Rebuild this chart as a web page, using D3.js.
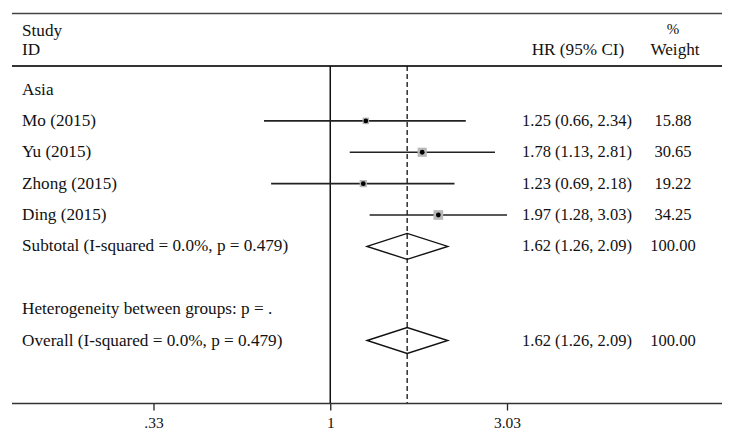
<!DOCTYPE html>
<html><head><meta charset="utf-8">
<script src="https://cdn.jsdelivr.net/npm/d3@7"></script>
<style>body{margin:0;background:#fff}svg{display:block}text{font-family:"Liberation Serif","Times New Roman",serif;fill:#111}</style>
</head><body><svg id="c" width="736" height="442"></svg>
<script>
const studies = ["Mo (2015)", "Yu (2015)", "Zhong (2015)", "Ding (2015)"];
const hr = [1.25, 1.78, 1.23, 1.97];
const lower = [0.66, 1.13, 0.69, 1.28];
const upper = [2.34, 2.81, 2.18, 3.03];
const weights = ["15.88", "30.65", "19.22", "34.25"];
const groupLabel = "Asia";
const subtotal = {label: "Subtotal (I-squared = 0.0%, p = 0.479)", hr: 1.62, lo: 1.26, hi: 2.09, w: "100.00"};
const heteroLabel = "Heterogeneity between groups: p = .";
const overall = {label: "Overall (I-squared = 0.0%, p = 0.479)", hr: 1.62, lo: 1.26, hi: 2.09, w: "100.00"};
const tickValues = [0.33, 1, 3.03];
const tickLabels = [".33", "1", "3.03"];

const svg = d3.select("#c");
const x = d3.scaleLog().domain([0.33, 3.03]).range([153.5, 507]);
const fmt = (a,b,c) => `${a.toFixed(2)} (${b.toFixed(2)}, ${c.toFixed(2)})`;

const left = 12, right = 722, topY = 13.5, headY = 66, axisY = 403.5;
const textX = 22, hrX = 632, hrHeadX = 578, wX = 673, fs = 17.2, nfs = 16.5;

// rows: 0 Asia, 1-4 studies, 5 subtotal, 6 blank, 7 hetero, 8 overall
const rowY = d3.scalePoint().domain(d3.range(9)).range([89.5, 340.5]);

svg.append("line").attr("x1",left).attr("x2",right).attr("y1",topY).attr("y2",topY).attr("stroke","#444").attr("stroke-width",1.5);
svg.append("line").attr("x1",left).attr("x2",right).attr("y1",headY).attr("y2",headY).attr("stroke","#333").attr("stroke-width",2);

// headers
svg.append("text").attr("x",textX).attr("y",36).attr("font-size",fs).text("Study");
svg.append("text").attr("x",textX).attr("y",55).attr("font-size",fs).text("ID");
svg.append("text").attr("x",hrHeadX).attr("y",55).attr("font-size",fs).attr("text-anchor","middle").text("HR (95% CI)");
svg.append("text").attr("x",wX).attr("y",34).attr("font-size",15).attr("text-anchor","middle").text("%");
svg.append("text").attr("x",wX+2).attr("y",55).attr("font-size",fs).attr("text-anchor","middle").text("Weight");

// reference lines
svg.append("line").attr("x1",x(1)).attr("x2",x(1)).attr("y1",headY).attr("y2",axisY).attr("stroke","#111").attr("stroke-width",1.5);
svg.append("line").attr("x1",x(overall.hr)).attr("x2",x(overall.hr)).attr("y1",headY).attr("y2",axisY).attr("stroke","#111").attr("stroke-width",1.3).attr("stroke-dasharray","5,3");

// axis
const axis = d3.axisBottom(x).tickValues(tickValues).tickFormat((d,i)=>tickLabels[i]).tickSize(7).tickSizeOuter(0);
const ag = svg.append("g").attr("transform",`translate(0,${axisY})`).call(axis);
ag.select(".domain").remove();
ag.selectAll(".tick line").attr("stroke","#222").attr("stroke-width",1.3);
ag.selectAll(".tick text").attr("font-size",15.5).attr("dy","0.93em").attr("font-family","Liberation Serif").attr("fill","#111");
svg.append("line").attr("x1",left).attr("x2",right).attr("y1",axisY).attr("y2",axisY).attr("stroke","#333").attr("stroke-width",1.5);

const tY = 5;
svg.append("text").attr("x",textX).attr("y",rowY(0)+tY).attr("font-size",fs).text(groupLabel);

studies.forEach((s,i)=>{
  const y = rowY(i+1);
  svg.append("text").attr("x",textX).attr("y",y+tY).attr("font-size",fs).text(s);
  svg.append("text").attr("x",hrX).attr("y",y+tY).attr("font-size",nfs).attr("text-anchor","end").text(fmt(hr[i],lower[i],upper[i]));
  svg.append("text").attr("x",wX).attr("y",y+tY).attr("font-size",nfs).attr("text-anchor","middle").text(weights[i]);
  svg.append("line").attr("x1",x(lower[i])).attr("x2",x(upper[i])).attr("y1",y).attr("y2",y).attr("stroke","#222").attr("stroke-width",1.6);
  const side = 1.65*Math.sqrt(+weights[i]);
  svg.append("rect").attr("x",x(hr[i])-side/2).attr("y",y-side/2).attr("width",side).attr("height",side).attr("fill","#b8b8b8");
  svg.append("circle").attr("cx",x(hr[i])).attr("cy",y).attr("r",2.4).attr("fill","#000");
});

function diamond(d, y){
  const h = 13;
  svg.append("path").attr("d",`M${x(d.lo)},${y}L${x(d.hr)},${y-h}L${x(d.hi)},${y}L${x(d.hr)},${y+h}Z`).attr("fill","none").attr("stroke","#111").attr("stroke-width",1.4);
  svg.append("text").attr("x",textX).attr("y",y+tY).attr("font-size",fs).text(d.label);
  svg.append("text").attr("x",hrX).attr("y",y+tY).attr("font-size",nfs).attr("text-anchor","end").text(fmt(d.hr,d.lo,d.hi));
  svg.append("text").attr("x",wX).attr("y",y+tY).attr("font-size",nfs).attr("text-anchor","middle").text(d.w);
}
diamond(subtotal, rowY(5));
svg.append("text").attr("x",textX).attr("y",rowY(7)+tY).attr("font-size",fs).text(heteroLabel);
diamond(overall, rowY(8));
</script></body></html>
